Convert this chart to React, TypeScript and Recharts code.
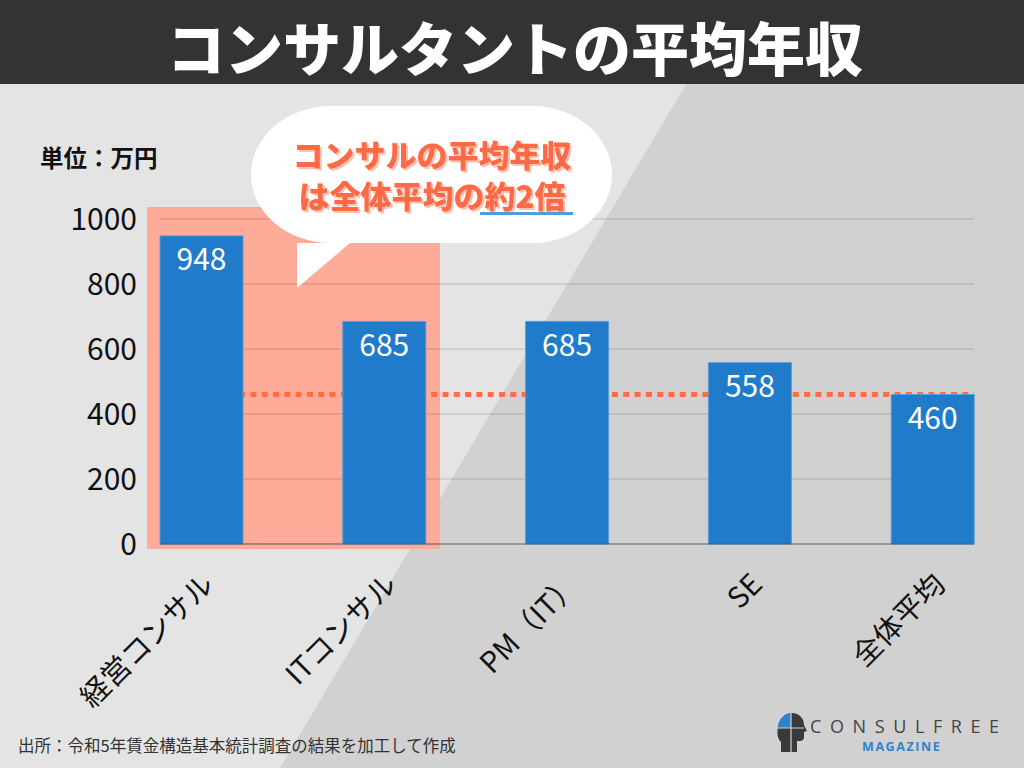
import React from 'react';
import {
  BarChart,
  Bar,
  XAxis,
  YAxis,
  CartesianGrid,
  ReferenceLine,
  LabelList
} from 'recharts';

// カテゴリ・年収（万円）
const categories = ['経営コンサル', 'ITコンサル', 'PM（IT）', 'SE', '全体平均'];
const salaries = [948, 685, 685, 558, 460];
const yTicks = [0, 200, 400, 600, 800, 1000];
const overallAverage = 460;

const FONT = '"Noto Sans CJK JP", "Noto Sans", sans-serif';

const data = categories.map((name, i) => ({ name, value: salaries[i] }));

/**
 * 斜め45度のX軸ラベル
 */
const RotatedTick = (props: any) => {
  const { x, y, payload } = props;
  return (
    <g transform={`translate(${x + 5},${y + 33})`}>
      <text
        transform="rotate(-45)"
        textAnchor="end"
        dominantBaseline="central"
        fontSize={29}
        fontFamily={FONT}
        fill="#111"
      >
        {payload.value}
      </text>
    </g>
  );
};

/**
 * ロゴ（頭のアイコン + CONSULFREE MAGAZINE）
 */
const Logo = () => (
  <g>
    <g transform="translate(777,713)">
      <path
        d="M4,39 L4,29 C0,25 0,19 1,14 C2,5 9,0 15,0 C22,0 27,5 27,12 L30,18 L27,19 L27,24 C27,27 25,28 22,28 L20,28 L20,39 Z"
        fill="#3a3a3a"
      />
      <path d="M1,14 C2,5 9,0 14,0 L14,15 L1,15 Z" fill="#2a85d0" />
      <path d="M14,0 L14,39 M1,15 L27,15" stroke="#d2d2d2" strokeWidth={1.2} fill="none" />
    </g>
    <text
      x={810}
      y={733}
      fontSize={18}
      letterSpacing={8.6}
      fill="#444"
      fontFamily='"Open Sans", sans-serif'
    >
      CONSULFREE
    </text>
    <text
      x={862}
      y={751}
      fontSize={12.5}
      fontWeight={700}
      letterSpacing={1.6}
      fill="#2a85d0"
      fontFamily='"Open Sans", sans-serif'
    >
      MAGAZINE
    </text>
  </g>
);

export default function App() {
  return (
    <div
      style={{
        position: 'absolute',
        left: 0,
        top: 0,
        width: 1024,
        height: 768,
        overflow: 'hidden',
        background: '#e4e4e4',
        fontFamily: FONT
      }}
    >
      {/* 背景：斜めの濃い面・タイトル帯・強調枠 */}
      <svg width={1024} height={768} style={{ position: 'absolute', left: 0, top: 0 }}>
        <polygon points="736,0 1024,0 1024,768 280,768" fill="#d1d1d1" />
        <rect x={0} y={0} width={1024} height={84} fill="#333333" />
        <rect x={147} y={207} width={293} height={342} fill="#ffab99" />
      </svg>

      <div style={{ position: 'absolute', left: 0, top: 0 }}>
        <BarChart
          width={1024}
          height={768}
          data={data}
          margin={{ top: 219, right: 50, left: 0, bottom: 0 }}
        >
          <CartesianGrid
            vertical={false}
            stroke="#000"
            strokeOpacity={0.12}
            strokeWidth={1.5}
          />
          <XAxis
            dataKey="name"
            height={224}
            padding={{ left: -50, right: -50 }}
            tickLine={false}
            tickSize={0}
            tickMargin={0}
            axisLine={{ stroke: '#000', strokeOpacity: 0.2, strokeWidth: 2 }}
            tick={<RotatedTick />}
            interval={0}
          />
          <YAxis
            width={160}
            domain={[0, 1000]}
            ticks={yTicks}
            axisLine={false}
            tickLine={false}
            tickSize={0}
            tickMargin={23}
            tick={{ fontSize: 30, fill: '#111', fontFamily: FONT }}
          />
          <ReferenceLine
            y={overallAverage}
            stroke="#ff6e40"
            strokeWidth={5}
            strokeDasharray="6 5.3"
            zIndex={250}
          />
          <Bar
            dataKey="value"
            barSize={83}
            fill="#207cca"
            stroke="#5b9bd5"
            strokeWidth={1}
            isAnimationActive={false}
          >
            <LabelList
              dataKey="value"
              position="insideTop"
              offset={13}
              fill="#fff"
              fontSize={30}
              fontFamily={FONT}
            />
          </Bar>
        </BarChart>
      </div>

      {/* 吹き出し・注記・ロゴ */}
      <svg width={1024} height={768} style={{ position: 'absolute', left: 0, top: 0 }}>
        <defs>
          <filter id="softShadow" x="-5%" y="-20%" width="110%" height="140%">
            <feDropShadow dx={2} dy={2} stdDeviation={0.6} floodColor="#ffb39c" floodOpacity={0.8} />
          </filter>
        </defs>
        <text
          x={515}
          y={46}
          textAnchor="middle"
          dominantBaseline="central"
          fontSize={58}
          fontWeight={900}
          fill="#fff"
          fontFamily={FONT}
        >
          コンサルタントの平均年収
        </text>
        <text
          x={40}
          y={157}
          dominantBaseline="central"
          fontSize={23.5}
          fontWeight={700}
          fill="#111"
          fontFamily={FONT}
        >
          単位：万円
        </text>

        <path
          d="M331,106 L532,106 A80,68.5 0 0 1 532,243 L350,243 L297,288 L297,243 L331,243 A80,68.5 0 0 1 331,106 Z"
          fill="#fff"
        />
        <g
          fontSize={31}
          fontWeight={900}
          fontFamily={FONT}
          textAnchor="middle"
          dominantBaseline="central"
          fill="#fd6b45"
          filter="url(#softShadow)"
        >
          <text x={432} y={153}>コンサルの平均年収</text>
          <text x={432} y={194}>は全体平均の約2倍</text>
        </g>
        <rect x={480} y={212} width={93} height={3} fill="#4a9de0" />

        <text
          x={18}
          y={745}
          dominantBaseline="central"
          fontSize={16.5}
          fill="#333"
          fontFamily={FONT}
        >
          出所：令和5年賃金構造基本統計調査の結果を加工して作成
        </text>

        <Logo />
      </svg>
    </div>
  );
}
